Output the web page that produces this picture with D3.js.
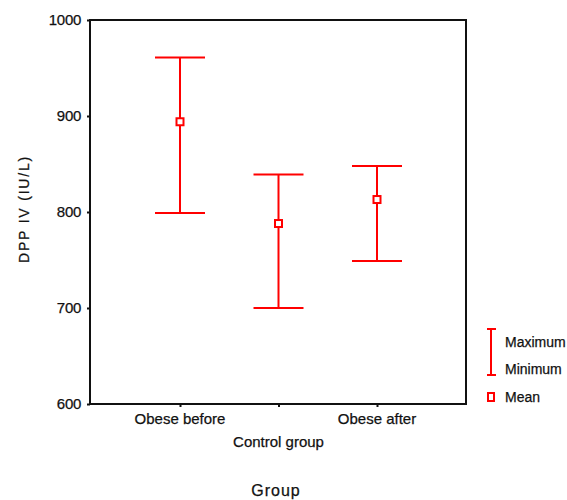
<!DOCTYPE html>
<html>
<head>
<meta charset="utf-8">
<script src="https://cdn.jsdelivr.net/npm/d3@7"></script>
<style>
  html, body { margin: 0; padding: 0; background: #fff; }
  svg { display: block; font-family: "Liberation Sans", Arial, sans-serif; }
  text { fill: #111; stroke: #111; stroke-width: 0.25px; }
</style>
</head>
<body>
<svg id="chart" width="567" height="500"></svg>
<script>
// Group labels and DPP IV summary values (IU/L)
const groups = ["Obese before", "Control group", "Obese after"];
const maxValues = [961, 839, 848];
const minValues = [799, 700, 749];
const meanValues = [894, 788, 813];
const yTicks = [600, 700, 800, 900, 1000];

const svg = d3.select("#chart");
const plotLeft = 90, plotRight = 466, plotTop = 20, plotBottom = 404;
const red = "#ff0000";

const y = d3.scaleLinear().domain([600, 1000]).range([plotBottom, plotTop]);
const x = d3.scalePoint().domain(groups).range([180, 377]);

// Frame around the plotting area
svg.append("rect")
  .attr("x", plotLeft).attr("y", plotTop)
  .attr("width", plotRight - plotLeft).attr("height", plotBottom - plotTop)
  .attr("fill", "none").attr("stroke", "#111").attr("stroke-width", 2);

// Y axis
const yAxis = svg.append("g")
  .attr("transform", `translate(${plotLeft},0)`)
  .call(d3.axisLeft(y).tickValues(yTicks).tickSize(3).tickPadding(6).tickFormat(d3.format("d")));
yAxis.select(".domain").remove();
yAxis.selectAll(".tick line").attr("stroke", "#111").attr("stroke-width", 2);
yAxis.selectAll(".tick text")
  .attr("font-size", 15)
  .attr("font-family", "Liberation Sans, Arial, sans-serif")
  .attr("letter-spacing", "-0.3px");

// X axis ticks and labels
const xAxis = svg.append("g")
  .attr("transform", `translate(0,${plotBottom})`)
  .call(d3.axisBottom(x).tickSize(3).tickFormat(""));
xAxis.select(".domain").remove();
xAxis.selectAll(".tick line").attr("stroke", "#111").attr("stroke-width", 2);

const labelY = { "Obese before": 419, "Control group": 442, "Obese after": 419 };
svg.append("g").selectAll("text")
  .data(groups)
  .join("text")
  .attr("x", d => x(d))
  .attr("y", d => labelY[d])
  .attr("dy", "0.35em")
  .attr("text-anchor", "middle")
  .attr("font-size", 15)
  .text(d => d);

// Axis titles
svg.append("text")
  .attr("x", 276).attr("y", 490)
  .attr("dy", "0.35em")
  .attr("text-anchor", "middle")
  .attr("font-size", 16)
  .attr("letter-spacing", "1px")
  .text("Group");

svg.append("text")
  .attr("transform", "translate(24,209) rotate(-90)")
  .attr("dy", "0.35em")
  .attr("text-anchor", "middle")
  .attr("font-size", 14)
  .attr("letter-spacing", "1.8px")
  .text("DPP IV (IU/L)");

// Range bars with caps and mean markers
const data = groups.map((g, i) => ({ g, max: maxValues[i], min: minValues[i], mean: meanValues[i] }));
const capHalf = 25;
const bars = svg.append("g").selectAll("g").data(data).join("g");

bars.append("line")
  .attr("x1", d => x(d.g)).attr("x2", d => x(d.g))
  .attr("y1", d => y(d.max)).attr("y2", d => y(d.min))
  .attr("stroke", red).attr("stroke-width", 2);
bars.append("line")
  .attr("x1", d => x(d.g) - capHalf).attr("x2", d => x(d.g) + capHalf)
  .attr("y1", d => y(d.max)).attr("y2", d => y(d.max))
  .attr("stroke", red).attr("stroke-width", 2);
bars.append("line")
  .attr("x1", d => x(d.g) - capHalf).attr("x2", d => x(d.g) + capHalf)
  .attr("y1", d => y(d.min)).attr("y2", d => y(d.min))
  .attr("stroke", red).attr("stroke-width", 2);
bars.append("rect")
  .attr("x", d => x(d.g) - 3.5).attr("y", d => y(d.mean) - 3.5)
  .attr("width", 7).attr("height", 7)
  .attr("fill", "#fff").attr("stroke", red).attr("stroke-width", 2);

// Legend
const legend = svg.append("g");
legend.append("line").attr("x1", 491).attr("x2", 491).attr("y1", 329).attr("y2", 375)
  .attr("stroke", red).attr("stroke-width", 2);
legend.append("line").attr("x1", 487).attr("x2", 496).attr("y1", 329).attr("y2", 329)
  .attr("stroke", red).attr("stroke-width", 2);
legend.append("line").attr("x1", 487).attr("x2", 496).attr("y1", 375).attr("y2", 375)
  .attr("stroke", red).attr("stroke-width", 2);
legend.append("rect").attr("x", 488).attr("y", 393).attr("width", 6).attr("height", 8)
  .attr("fill", "#fff").attr("stroke", red).attr("stroke-width", 2);

const legendItems = [["Maximum", 342], ["Minimum", 369], ["Mean", 397]];
legend.selectAll("text").data(legendItems).join("text")
  .attr("x", 505).attr("y", d => d[1])
  .attr("dy", "0.35em")
  .attr("font-size", 14)
  .text(d => d[0]);
</script>
</body>
</html>
